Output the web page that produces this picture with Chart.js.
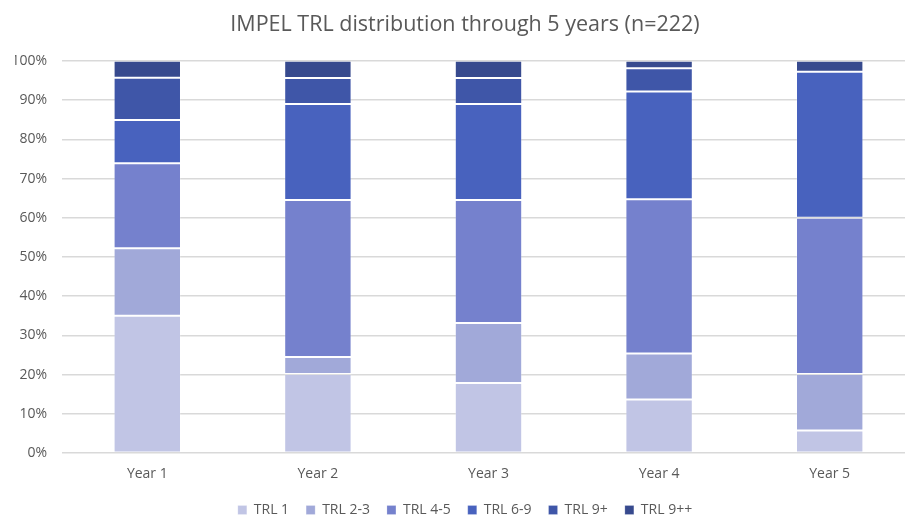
<!DOCTYPE html>
<html>
<head>
<meta charset="utf-8">
<script src="https://cdn.jsdelivr.net/npm/chart.js@4/dist/chart.umd.min.js"></script>
<style>
  html, body { margin: 0; padding: 0; background: #fff; overflow: hidden; }
  #wrap { width: 930px; height: 515px; }
</style>
</head>
<body>
<div id="wrap"><canvas id="trl"></canvas></div>
<script>
// Categorías y series (porcentaje por año)
const years   = ['Year 1', 'Year 2', 'Year 3', 'Year 4', 'Year 5'];
const trl1    = [35.0, 20.2, 17.9, 13.7, 5.8];
const trl23   = [17.2, 4.3, 15.3, 11.7, 14.4];
const trl45   = [21.7, 40.0, 31.3, 39.3, 39.8];
const trl69   = [11.0, 24.5, 24.5, 27.5, 37.2];
const trl9p   = [10.8, 6.6, 6.6, 5.9, 0];
const trl9pp  = [4.3, 4.4, 4.4, 1.9, 2.8];
const yTicks  = [0, 10, 20, 30, 40, 50, 60, 70, 80, 90, 100];

const grey = '#595959';
const font = "'Open Sans', 'Liberation Sans', sans-serif";

function serie(label, data, color) {
    return {
        label, data,
        backgroundColor: color,
        borderColor: 'rgba(255,255,255,0.2)',
        borderWidth: 1,
        borderSkipped: false,
        categoryPercentage: 1,
        barPercentage: 0.395
    };
}

new Chart(document.getElementById('trl'), {
    type: 'bar',
    data: {
        labels: years,
        datasets: [
            serie('TRL 1',   trl1,   '#C1C5E5'),
            serie('TRL 2-3', trl23,  '#A1A9D9'),
            serie('TRL 4-5', trl45,  '#7581CD'),
            serie('TRL 6-9', trl69,  '#4862BE'),
            serie('TRL 9+',  trl9p,  '#3F56A8'),
            serie('TRL 9++', trl9pp, '#374A8E')
        ]
    },
    options: {
        responsive: true,
        maintainAspectRatio: false,
        animation: false,
        layout: { padding: { left: 15, right: 15, top: 8, bottom: -12 } },
        plugins: {
            title: {
                display: true,
                text: 'IMPEL TRL distribution through 5 years (n=222)',
                color: grey,
                font: { family: font, size: 21.5, weight: 'normal' },
                padding: { top: 4, bottom: 23 }
            },
            legend: {
                position: 'bottom',
                labels: {
                    color: grey,
                    font: { family: font, size: 14 },
                    boxWidth: 9,
                    boxHeight: 9,
                    padding: 17
                }
            },
            tooltip: { enabled: false }
        },
        scales: {
            x: {
                stacked: true,
                grid: { display: false },
                border: { display: false },
                ticks: { color: grey, font: { family: font, size: 14 }, padding: 4 }
            },
            y: {
                stacked: true,
                min: 0,
                max: 100,
                afterBuildTicks: axis => { axis.ticks = yTicks.map(v => ({ value: v })); },
                afterFit: axis => { axis.width = 47; },
                grid: { color: '#D9D9D9', lineWidth: 1.5, drawTicks: false },
                border: { display: false },
                ticks: {
                    color: grey,
                    font: { family: font, size: 14 },
                    padding: 15,
                    callback: v => v + '%'
                }
            }
        }
    }
});
</script>
</body>
</html>
